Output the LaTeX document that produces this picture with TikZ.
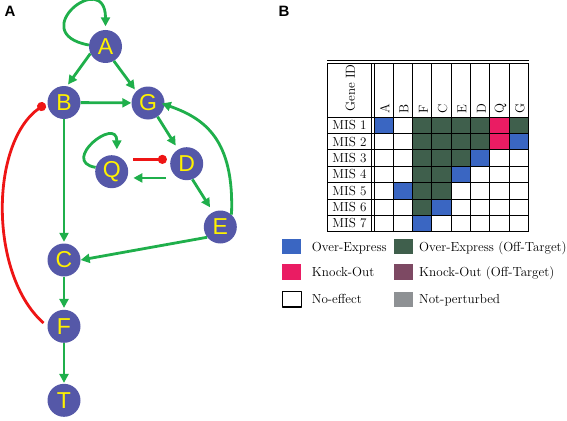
\documentclass[tikz,border=0pt]{standalone}
\usepackage{fontspec}
\newfontfamily\genefont{Liberation Sans}
\usetikzlibrary{arrows.meta}
\definecolor{genebody}{HTML}{5558A8}
\definecolor{actgreen}{HTML}{1FAF4B}
\definecolor{inhred}{HTML}{EE1515}
\definecolor{oeblue}{HTML}{3A66C2}
\definecolor{offgreen}{HTML}{3F5F4C}
\definecolor{kopink}{HTML}{EA1C63}
\definecolor{offpurple}{HTML}{7D4963}
\definecolor{npgrey}{HTML}{8E9194}
\begin{document}
\begin{tikzpicture}[x=1pt,y=1pt,>={Triangle[length=9pt,width=9pt]}, line join=round,
	gene/.style={circle,fill=genebody,minimum size=33pt,inner sep=0pt,text=yellow,font=\genefont\fontsize{23}{23}\selectfont},
	act/.style={draw=actgreen,line width=2.8pt,->},
	inh/.style={draw=inhred,line width=2.8pt,-{Circle[length=9pt]}},
	panel/.style={anchor=base west,inner sep=0pt,font=\genefont\fontsize{15}{15}\selectfont\bfseries},
	tabtext/.style={inner sep=0pt,font=\fontsize{13.1}{15}\selectfont},
	grid/.style={line width=1pt,line cap=rect},
	legbox/.style={minimum width=19pt,minimum height=15.5pt,inner sep=0pt}]
	\useasboundingbox (0,0) rectangle (567,-420);
	\path
	(105.5,-46.5)coordinate(pA)
	(64,-102.5)coordinate(pB)
	(148,-103)coordinate(pG)
	(111.7,-171.7)coordinate(pQ)
	(186.7,-163.7)coordinate(pD)
	(220.3,-227)coordinate(pE)
	(64,-260)coordinate(pC)
	(64,-326.3)coordinate(pF)
	(64,-400.3)coordinate(pT)
	;
	\foreach \g in {A,B,G,Q,D,E,C,F,T} \node[gene](\g) at (p\g) {\g};
	\node[panel](panA) at (4.5,-17) {A};
	\node[panel](panB) at (278.5,-17) {B};
	\draw[act,shorten >=3.5pt] (A.175) .. controls +(-65,12) and +(0,62) .. (A.north);
	\draw[act,shorten >=6.5pt] (Q.165) .. controls +(-36,6) and +(0,40) .. (Q.72);
	\draw[act,shorten >=2pt] (A.205) -- (B.80);
	\draw[act,shorten >=2.2pt] (A.-60) -- (G.135);
	\draw[act] (B) -- (G);
	\draw[act,shorten >=1.5pt] (B) -- (C);
	\draw[act,shorten >=4.5pt] (G.-55) -- (D.121);
	\draw[act,shorten >=5.5pt] (D.-70) -- (E.116);
	\draw[act,shorten <=4.2pt,shorten >=6.2pt] (D.west |- Q.-22) -- (Q.-22);
	\draw[inh,shorten <=5pt,shorten >=3.7pt] (Q.east |- D.165) -- (D.165);
	\draw[act,shorten >=-3pt] (E.48) .. controls +(3,75) and +(40,-14) .. (G.-5);
	\draw[act] (E.218) -- (C.east);
	\draw[act,shorten >=1.7pt] (C) -- (F);
	\draw[act,shorten >=0.7pt] (F) -- (T);
	\draw[inh,shorten <=5pt,shorten >=2.5pt] (F.west) .. controls +(-58,51) and +(-58,-41) .. (B.west);
	\foreach \r/\c/\k in {1/0/oeblue,1/2/offgreen,1/3/offgreen,1/4/offgreen,1/5/offgreen,1/6/kopink,1/7/offgreen,
		2/2/offgreen,2/3/offgreen,2/4/offgreen,2/5/offgreen,2/6/kopink,2/7/oeblue,
		3/2/offgreen,3/3/offgreen,3/4/offgreen,3/5/oeblue,
		4/2/offgreen,4/3/offgreen,4/4/oeblue,
		5/1/oeblue,5/2/offgreen,5/3/offgreen,
		6/2/offgreen,6/3/oeblue,
		7/2/oeblue}
	\fill[\k] ({374+19.33*\c},{-117.3-16.34*(\r-1)}) rectangle ++(19.33,-16.34);
	\foreach \i in {0,...,8} \draw[grid] ({374+19.33*\i},-63.3) -- ({374+19.33*\i},-231.7);
	\draw[grid] (327.5,-63.3) -- (327.5,-231.7);
	\draw[grid] (371,-63.3) -- (371,-231.7);
	\draw[grid] (327.5,-61) -- (528.6,-61);
	\draw[grid] (327.5,-63.3) -- (528.6,-63.3);
	\foreach \r in {0,...,7} \draw[grid] (327.5,{-117.3-16.34*\r}) -- (528.6,{-117.3-16.34*\r});
	\node[tabtext,rotate=90,anchor=west](geneid) at (350.5,-111.7) {Gene ID};
	\foreach \g [count=\i from 0] in {A,B,F,C,E,D,Q,G}
	\node[tabtext,rotate=90,anchor=west](col\g) at ({374+19.33*(\i+0.5)+1},-113.5) {\g};
	\foreach \r in {1,...,7}
	\node[tabtext,anchor=base](mis\r) at (349.5,{-117.3-16.34*(\r-0.5)-4.4}) {MIS \r};
	\foreach \k/\d/\t/\sx/\tx/\y in {oeblue/none/Over-Express/281.7/311.7/-246.7,
		offgreen/none/Over-Express (Off-Target)/393.3/419/-246.7,
		kopink/none/Knock-Out/281.7/311.7/-272.2,
		offpurple/none/Knock-Out (Off-Target)/393.3/419/-272.2,
		white/black/No-effect/281.7/311.7/-299.3,
		npgrey/none/Not-perturbed/393.3/419/-299.3}
	{
		\node[legbox,fill=\k,draw=\d,line width=1.3pt,anchor=west](box\k) at (\sx,\y) {};
		\node[tabtext,anchor=base west](lab\k) at (\tx,\y-4.4) {\t};
	}
\end{tikzpicture}
\end{document}
